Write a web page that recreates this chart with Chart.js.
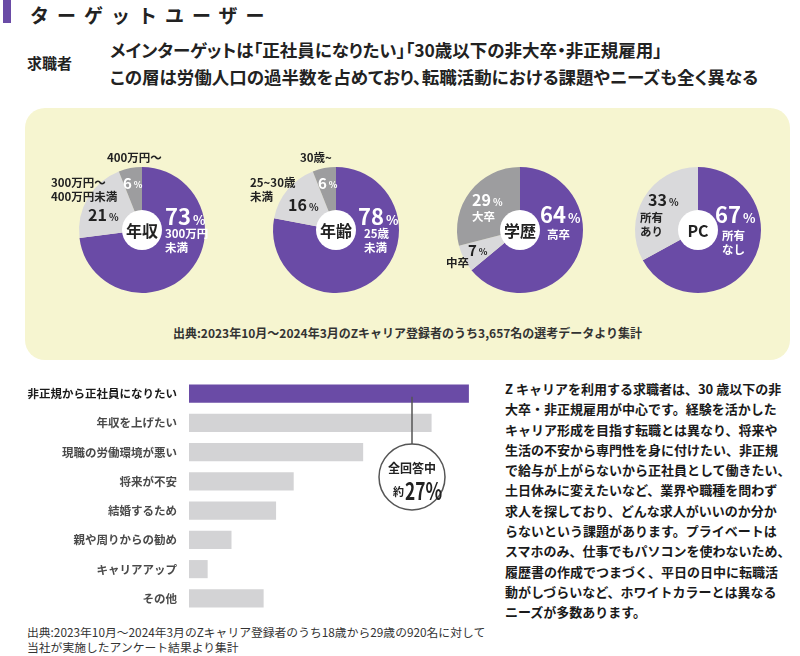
<!DOCTYPE html>
<html lang="ja">
<head>
<meta charset="utf-8">
<script src="https://cdn.jsdelivr.net/npm/chart.js@4.4.1/dist/chart.umd.min.js"></script>
<style>
  body { margin: 0; width: 800px; height: 656px; position: relative; background: #fff; overflow: hidden;
         font-family: "Noto Sans CJK JP", "Noto Sans", sans-serif; color: #222; }
  .abs { position: absolute; }
  .title-mark { left: 3px; top: 0; width: 8px; height: 23px; background: #6a4ba6; }
  .title { left: 30px; top: 0; margin: 0; font-size: 19px; line-height: 30px; font-weight: bold; letter-spacing: 8px; }
  .who { left: 27px; top: 52px; font-size: 15px; line-height: 22px; font-weight: bold; }
  .lead { left: 110px; top: 36px; font-size: 17.5px; line-height: 27px; font-weight: bold; white-space: nowrap;
          font-feature-settings: "palt"; }
  .panel { left: 25px; top: 108px; width: 765px; height: 252px; background: #f6f5d0; border-radius: 20px; }
  .panel-note { left: 25px; top: 324px; width: 765px; text-align: center; font-size: 12px; line-height: 18px; font-weight: bold; color: #333; }
  .pie { width: 220px; height: 180px; }
  .body-text { left: 505px; top: 379px; font-size: 13px; line-height: 20.3px; font-weight: bold; color: #1a1a1a; white-space: nowrap; }
  .note { left: 27px; top: 624px; font-size: 11.8px; line-height: 15px; color: #333; white-space: nowrap; }
  #barWrap { left: 20px; top: 379px; width: 480px; height: 234px; }
</style>
</head>
<body>
<div class="abs title-mark"></div>
<h1 class="abs title">ターゲットユーザー</h1>
<div class="abs who">求職者</div>
<div class="abs lead">メインターゲットは「正社員になりたい」「30歳以下の非大卒・非正規雇用」<br>この層は労働人口の過半数を占めており、転職活動における課題やニーズも全く異なる</div>
<div class="abs panel"></div>
<div class="abs pie" style="left:32px;top:140px"><canvas id="pie0"></canvas></div>
<div class="abs pie" style="left:226px;top:140px"><canvas id="pie1"></canvas></div>
<div class="abs pie" style="left:410px;top:140px"><canvas id="pie2"></canvas></div>
<div class="abs pie" style="left:588px;top:140px"><canvas id="pie3"></canvas></div>
<div class="abs panel-note">出典:2023年10月～2024年3月のZキャリア登録者のうち3,657名の選考データより集計</div>
<div class="abs" id="barWrap"><canvas id="barChart"></canvas></div>
<div class="abs body-text">Z キャリアを利用する求職者は、30 歳以下の非<br>大卒・非正規雇用が中心です。経験を活かした<br>キャリア形成を目指す転職とは異なり、将来や<br>生活の不安から専門性を身に付けたい、非正規<br>で給与が上がらないから正社員として働きたい、<br>土日休みに変えたいなど、業界や職種を問わず<br>求人を探しており、どんな求人がいいのか分か<br>らないという課題があります。プライベートは<br>スマホのみ、仕事でもパソコンを使わないため、<br>履歴書の作成でつまづく、平日の日中に転職活<br>動がしづらいなど、ホワイトカラーとは異なる<br>ニーズが多数あります。</div>
<div class="abs note">出典:2023年10月～2024年3月のZキャリア登録者のうち18歳から29歳の920名に対して<br>当社が実施したアンケート結果より集計</div>

<script>
// ---- data ----
const incomeLabels = ['300万円未満', '300万円～400万円未満', '400万円～'];
const incomeValues = [73, 21, 6];
const ageLabels = ['25歳未満', '25~30歳未満', '30歳~'];
const ageValues = [78, 16, 6];
const eduLabels = ['高卒', '中卒', '大卒'];
const eduValues = [64, 7, 29];
const pcLabels = ['所有なし', '所有あり'];
const pcValues = [67, 33];

const reasonLabels = ['非正規から正社員になりたい', '年収を上げたい', '現職の労働環境が悪い', '将来が不安',
    '結婚するため', '親や周りからの勧め', 'キャリアアップ', 'その他'];
const reasonValues = [27, 23.4, 16.8, 10.1, 8.4, 4.1, 1.8, 7.2];

const PURPLE = '#6a4ba6';
const LIGHT = '#d9d9db';
const DARK = '#9d9d9f';
const FONT = '"Noto Sans CJK JP", sans-serif';

// label layout for each slice: percent pos, name lines pos (offsets from pie centre)
const pieSetups = [
    { id: 'pie0', hub: '年収', labels: incomeLabels, values: incomeValues, colors: [PURPLE, LIGHT, DARK],
      names: [['300万円', '未満'], ['300万円～', '400万円未満'], ['400万円～']],
      layout: [
        { p: [23, -13], ps: 22, pc: '#fff', n: [23, 4], nc: '#fff' },
        { p: [-54, -15], ps: 16, pc: '#222', n: [-91, -47], nc: '#222' },
        { p: [-19, -47], ps: 15, pc: '#fff', n: [-35, -72], nc: '#222' }
      ] },
    { id: 'pie1', hub: '年齢', labels: ageLabels, values: ageValues, colors: [PURPLE, LIGHT, DARK],
      names: [['25歳', '未満'], ['25~30歳', '未満'], ['30歳~']],
      layout: [
        { p: [22, -13], ps: 22, pc: '#fff', n: [28, 4], nc: '#fff' },
        { p: [-48, -25], ps: 16, pc: '#222', n: [-86, -47], nc: '#222' },
        { p: [-18, -47], ps: 15, pc: '#fff', n: [-36, -72], nc: '#222' }
      ] },
    { id: 'pie2', hub: '学歴', labels: eduLabels, values: eduValues, colors: [PURPLE, LIGHT, DARK],
      names: [['高卒'], ['中卒'], ['大卒']],
      layout: [
        { p: [20, -15], ps: 22, pc: '#fff', n: [27, 5], nc: '#fff' },
        { p: [-52, 20], ps: 15, pc: '#222', n: [-74, 33], nc: '#222' },
        { p: [-48, -30], ps: 16, pc: '#fff', n: [-48, -13], nc: '#fff' }
      ] },
    { id: 'pie3', hub: 'PC', labels: pcLabels, values: pcValues, colors: [PURPLE, LIGHT],
      names: [['所有', 'なし'], ['所有', 'あり']],
      layout: [
        { p: [17, -15], ps: 22, pc: '#fff', n: [24, 6], nc: '#fff' },
        { p: [-50, -30], ps: 16, pc: '#222', n: [-58, -12], nc: '#222' }
      ] }
];

// draws the white hub, the hub title and the slice labels
const pieText = {
    id: 'pieText',
    afterDatasetsDraw(chart, args, opts) {
        const ctx = chart.ctx;
        const arc = chart.getDatasetMeta(0).data[0];
        const cx = arc.x, cy = arc.y;
        const values = chart.data.datasets[0].data;
        ctx.save();
        ctx.beginPath();
        ctx.arc(cx, cy, 20, 0, Math.PI * 2);
        ctx.fillStyle = '#fff';
        ctx.fill();
        ctx.fillStyle = '#222';
        ctx.font = 'bold 16px ' + FONT;
        ctx.textAlign = 'center';
        ctx.textBaseline = 'middle';
        ctx.fillText(opts.hub, cx, cy + 1);

        ctx.textAlign = 'left';
        opts.layout.forEach((l, i) => {
            // percentage, small % sign
            const num = String(values[i]);
            ctx.fillStyle = l.pc;
            ctx.font = 'bold ' + l.ps + 'px ' + FONT;
            ctx.fillText(num, cx + l.p[0], cy + l.p[1]);
            const w = ctx.measureText(num).width;
            ctx.font = 'bold ' + Math.round(l.ps * 0.6) + 'px ' + FONT;
            ctx.fillText('%', cx + l.p[0] + w + 2, cy + l.p[1] + l.ps * 0.12);
            // name lines
            ctx.fillStyle = l.nc;
            ctx.font = 'bold 11.5px ' + FONT;
            opts.names[i].forEach((line, k) => {
                ctx.fillText(line, cx + l.n[0], cy + l.n[1] + k * 13.5);
            });
        });
        ctx.restore();
    }
};

pieSetups.forEach(s => {
    new Chart(document.getElementById(s.id), {
        type: 'pie',
        data: {
            labels: s.labels,
            datasets: [{ data: s.values, backgroundColor: s.colors, borderWidth: 0 }]
        },
        options: {
            responsive: true,
            maintainAspectRatio: false,
            animation: false,
            layout: { padding: { left: 47, right: 47, top: 27, bottom: 27 } },
            plugins: {
                legend: { display: false },
                tooltip: { enabled: false },
                pieText: { hub: s.hub, layout: s.layout, names: s.names }
            }
        },
        plugins: [pieText]
    });
});

// callout bubble next to the first bar
const callout = {
    id: 'callout',
    afterDraw(chart) {
        const ctx = chart.ctx;
        const bar = chart.getDatasetMeta(0).data[0];
        const x = 392, y0 = bar.y + 3, cy = 98, r = 33;
        ctx.save();
        ctx.strokeStyle = '#555';
        ctx.lineWidth = 1.5;
        ctx.beginPath();
        ctx.moveTo(x, y0);
        ctx.lineTo(x, cy - r);
        ctx.stroke();
        ctx.beginPath();
        ctx.arc(x, cy, r, 0, Math.PI * 2);
        ctx.fillStyle = '#fff';
        ctx.fill();
        ctx.stroke();
        ctx.fillStyle = '#222';
        ctx.textAlign = 'center';
        ctx.textBaseline = 'middle';
        ctx.font = 'bold 12px ' + FONT;
        ctx.fillText('全回答中', x, cy - 9);
        ctx.font = 'bold 11px ' + FONT;
        ctx.textAlign = 'right';
        ctx.fillText('約', x - 8, cy + 15);
        // condensed number
        ctx.translate(x - 7, cy + 14);
        ctx.scale(0.72, 1);
        ctx.font = 'bold 24px ' + FONT;
        ctx.textAlign = 'left';
        ctx.fillText(reasonValues[0] + '%', 0, 0);
        ctx.restore();
    }
};

new Chart(document.getElementById('barChart'), {
    type: 'bar',
    data: {
        labels: reasonLabels,
        datasets: [{
            data: reasonValues,
            backgroundColor: reasonValues.map((v, i) => i === 0 ? PURPLE : '#d3d3d5'),
            borderWidth: 0,
            barPercentage: 0.62,
            categoryPercentage: 1
        }]
    },
    options: {
        indexAxis: 'y',
        responsive: true,
        maintainAspectRatio: false,
        animation: false,
        layout: { padding: 0, autoPadding: false },
        scales: {
            x: { display: false, min: 0, max: 30 },
            y: {
                grid: { display: false, drawTicks: false },
                border: { display: false },
                afterFit: scale => {
                    scale.width = 169;
                    scale.paddingTop = 0;
                    scale.paddingBottom = 0;
                },
                ticks: {
                    padding: 12,
                    color: c => c.index === 0 ? '#1a1a1a' : '#4a4a4a',
                    font: { family: FONT, size: 11.5, weight: 'bold' }
                }
            }
        },
        plugins: { legend: { display: false }, tooltip: { enabled: false } }
    },
    plugins: [callout]
});
</script>
</body>
</html>
